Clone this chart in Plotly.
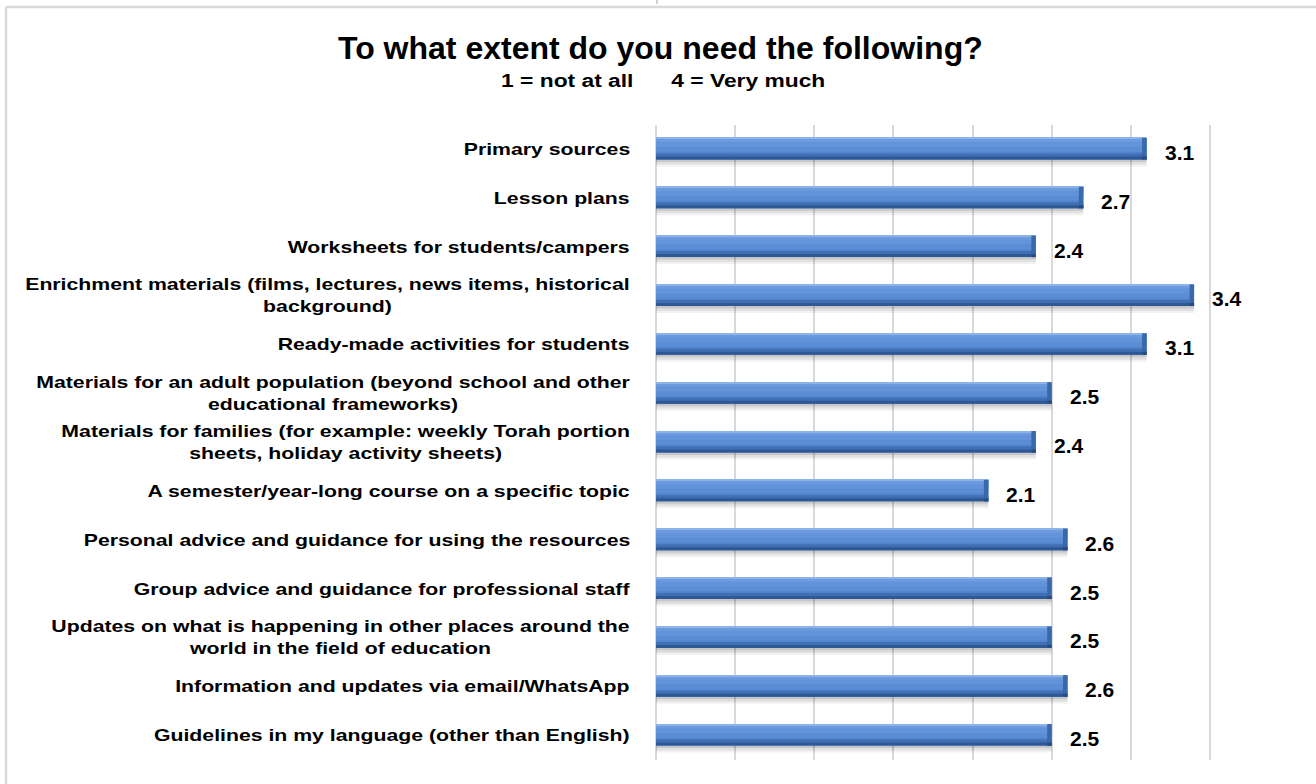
import plotly.graph_objects as go

# ---- data -----------------------------------------------------------------
categories = [
    "Primary sources",
    "Lesson plans",
    "Worksheets for students/campers",
    "Enrichment materials (films, lectures, news items, historical<br>background)",
    "Ready-made activities for students",
    "Materials for an adult population (beyond school and other<br>educational frameworks)",
    "Materials for families (for example: weekly Torah portion<br>sheets, holiday activity sheets)",
    "A semester/year-long course on a specific topic",
    "Personal advice and guidance for using the resources",
    "Group advice and guidance for professional staff",
    "Updates on what is happening in other places around the<br>world in the field of education",
    "Information and updates via email/WhatsApp",
    "Guidelines in my language (other than English)",
]
scores = [3.1, 2.7, 2.4, 3.4, 3.1, 2.5, 2.4, 2.1, 2.6, 2.5, 2.5, 2.6, 2.5]
value_labels = [f"{v:.1f}" for v in scores]

title_text = "To what extent do you need the following?"
subtitle_text = "1 = not at all" + "\u00a0" * 6 + "4 = Very much"

# ---- page geometry ----------------------------------------------------------
W, H = 1316, 784
ML, MR, MT, MB = 656, 27, 125, 24
PW = W - ML - MR
PH = H - MT - MB
ROW_PX = PH / len(categories)          # height of one category row in px


def paper_x(px):
    return (px - ML) / PW


def paper_y(py):
    return (H - MB - py) / PH


def rows(px):
    """pixel distance -> category units"""
    return px / ROW_PX


FONT = "Liberation Sans, Arial, Helvetica, sans-serif"

fig = go.Figure()


def bar_layer(top_px, height_px, color, x=None, base=None):
    fig.add_trace(go.Bar(
        y=categories,
        x=scores if x is None else x,
        base=base,
        orientation="h",
        offset=rows(top_px),
        width=rows(height_px),
        marker=dict(color=color, line=dict(width=0)),
        hoverinfo="skip",
        showlegend=False,
    ))


BAR_TOP = -11.5      # px from row centre to the top of the bar
BAR_H = 21.5
# shaded bands of the bar body, top to bottom: (start px, height px, colour)
bands = [
    (0.0, 21.5, "#4F83CC"),
    (0.0, 14.0, "#5A8DD4"),
    (0.0, 9.0, "#6394DA"),
    (0.0, 4.0, "#6C9CDF"),
    (0.0, 1.2, "#8DB4EA"),
    (15.5, 6.0, "#406FB3"),
    (18.5, 3.0, "#2E5894"),
]
# soft shadow beneath the bar
bar_layer(BAR_TOP + BAR_H, 2.5, "rgba(0,0,0,0.22)")
bar_layer(BAR_TOP + BAR_H + 2.5, 2.5, "rgba(0,0,0,0.12)")
bar_layer(BAR_TOP + BAR_H + 5.0, 2.0, "rgba(0,0,0,0.05)")
for start, h, col in bands:
    bar_layer(BAR_TOP + start, h, col)
# bevelled right end cap
cap = 0.028
bar_layer(BAR_TOP, BAR_H, "#3A68A8", x=[cap] * len(scores),
          base=[s - cap for s in scores])
bar_layer(BAR_TOP + BAR_H - 3, 3, "#264C82", x=[cap] * len(scores),
          base=[s - cap for s in scores])

annotations = []
for cat in categories:
    annotations.append(dict(
        x=0, xref="paper", y=cat, yref="y", text=cat,
        xanchor="right", yanchor="middle", align="center", xshift=-24,
        showarrow=False,
        font=dict(family=FONT, size=17, color="#000000", weight="bold"),
    ))
for cat, v, lab in zip(categories, scores, value_labels):
    annotations.append(dict(
        x=v, xref="x", y=cat, yref="y", text=lab,
        xanchor="left", yanchor="middle", xshift=16, yshift=-3,
        showarrow=False,
        font=dict(family=FONT, size=21, color="#000000", weight="bold"),
    ))
annotations.append(dict(
    x=paper_x(W / 2 + 2), xref="paper", y=paper_y(48), yref="paper",
    text=title_text, xanchor="center", yanchor="middle", showarrow=False,
    font=dict(family=FONT, size=32, color="#000000", weight="bold"),
))
annotations.append(dict(
    x=paper_x(W / 2 + 5), xref="paper", y=paper_y(81), yref="paper",
    text=subtitle_text, xanchor="center", yanchor="middle", showarrow=False,
    font=dict(family=FONT, size=19, color="#000000", weight="bold"),
))

shapes = [
    # chart frame (left and top edges)
    dict(type="line", xref="paper", yref="paper",
         x0=paper_x(6), x1=paper_x(6), y0=paper_y(H + 5), y1=paper_y(7),
         line=dict(color="#D9D9D9", width=2.5), layer="below"),
    dict(type="line", xref="paper", yref="paper",
         x0=paper_x(6), x1=paper_x(W + 5), y0=paper_y(7), y1=paper_y(7),
         line=dict(color="#D9D9D9", width=2.5), layer="below"),
    dict(type="line", xref="paper", yref="paper",
         x0=paper_x(657), x1=paper_x(657), y0=paper_y(0), y1=paper_y(4),
         line=dict(color="#A0A0A0", width=1)),
]

fig.update_layout(
    width=W, height=H,
    margin=dict(l=ML, r=MR, t=MT, b=MB, pad=0),
    paper_bgcolor="white", plot_bgcolor="white",
    barmode="overlay",
    annotations=annotations,
    shapes=shapes,
    xaxis=dict(range=[0, 4], dtick=0.5, showgrid=True, gridcolor="#D9D9D9",
               gridwidth=1.5, zeroline=True, zerolinecolor="#D9D9D9",
               zerolinewidth=2, showticklabels=False, ticks="",
               showline=False, fixedrange=True),
    yaxis=dict(categoryorder="array", categoryarray=categories,
               autorange="reversed", showticklabels=False, ticks="",
               showgrid=False, zeroline=False, showline=False,
               fixedrange=True),
    font=dict(family=FONT),
)

# The category labels and the scale note are set in a widened face.
n = len(categories)
label_rules = "\n".join(
    f'g.annotation[data-index="{i}"] text.annotation-text '
    "{transform-box: fill-box; transform-origin: right center; "
    "transform: scaleX(1.25);}"
    for i in range(n)
)
sub_rule = (
    f'g.annotation[data-index="{2 * n + 1}"] text.annotation-text '
    "{transform-box: fill-box; transform-origin: center center; "
    "transform: scaleX(1.2);}"
)
page_rule = "html, body {margin: 0; padding: 0; overflow: hidden;}"
css = (label_rules + "\n" + sub_rule + "\n" + page_rule).replace("\n", " ")
post_js = (
    "var s = document.createElement('style');"
    f"s.textContent = {css!r};"
    "document.head.appendChild(s);"
)

fig.write_html("out.html", config={"displayModeBar": False},
               post_script=post_js)
